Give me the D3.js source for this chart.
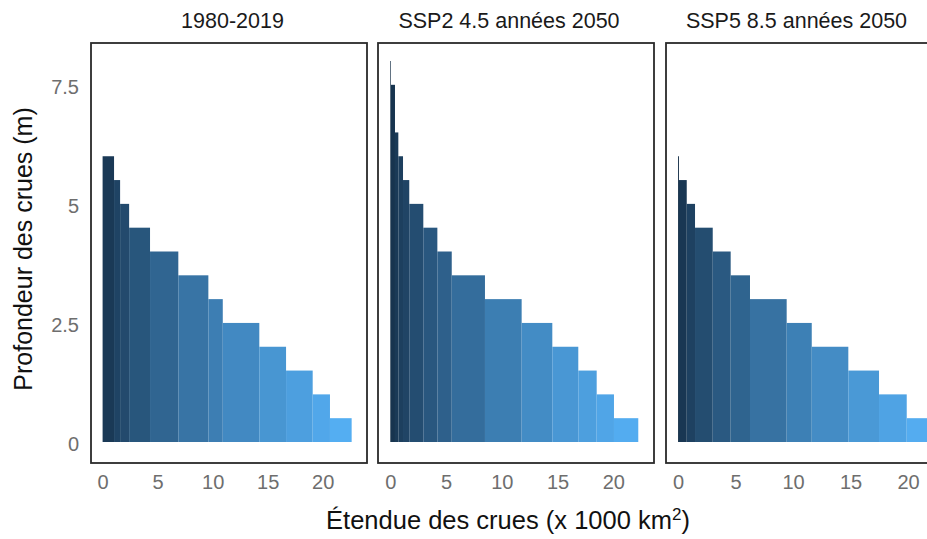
<!DOCTYPE html>
<html>
<head>
<meta charset="utf-8">
<script src="https://cdn.jsdelivr.net/npm/d3@7"></script>
<style>
  html, body { margin: 0; padding: 0; background: #fff; }
  svg { display: block; font-family: "Liberation Sans", Arial, sans-serif; }
</style>
</head>
<body>
<svg id="chart" width="927" height="539"></svg>
<script>
// Facet titles
const scenarios = ["1980-2019", "SSP2 4.5 années 2050", "SSP5 8.5 années 2050"];

// Depth class (m) and cumulative flooded extent (x 1000 km²) reached at that depth
const depthHist = [6, 5.5, 5, 4.5, 4, 3.5, 3, 2.5, 2, 1.5, 1, 0.5];
const extentHist = [1.04, 1.59, 2.41, 4.31, 6.88, 9.61, 10.92, 14.24, 16.67, 19.09, 20.66, 22.63];

const depthSsp245 = [8, 7.5, 6.5, 6, 5.5, 5, 4.5, 4, 3.5, 3, 2.5, 2, 1.5, 1, 0.5];
const extentSsp245 = [0.06, 0.42, 0.72, 1.14, 1.70, 2.96, 4.22, 5.51, 8.49, 11.78, 14.53, 16.86, 18.51, 20.06, 22.24];

const depthSsp585 = [6, 5.5, 5, 4.5, 4, 3.5, 3, 2.5, 2, 1.5, 1, 0.5];
const extentSsp585 = [0.08, 0.76, 1.48, 3.02, 4.58, 6.26, 9.45, 11.63, 14.81, 17.48, 19.89, 22.6];

const xTicks = [0, 5, 10, 15, 20];
const yTicks = [0, 2.5, 5, 7.5];

const series = [
  { title: scenarios[0], depth: depthHist, extent: extentHist },
  { title: scenarios[1], depth: depthSsp245, extent: extentSsp245 },
  { title: scenarios[2], depth: depthSsp585, extent: extentSsp585 }
];

// Panel geometry
const frameTop = 43, frameBottom = 463, frameW = 276;
const frames = [
  { left: 91,  x0: 102.6, x20: 322.7, titleX: 232.5 },
  { left: 378, x0: 390.3, x20: 613.3, titleX: 509 },
  { left: 666, x0: 678,   x20: 908,   titleX: 796.5 }
];

const svg = d3.select("#chart");

const y = d3.scaleLinear().domain([0, 8]).range([442, 61]);
// Fill follows the extent at the middle of each bar, dark navy to light blue
const fill = d3.scaleSequentialPow(d3.interpolateRgb("#132B43", "#56B1F7"))
  .exponent(0.6)
  .domain([0, 22.6]);

series.forEach((s, i) => {
  const f = frames[i];
  const x = d3.scaleLinear().domain([0, 20]).range([f.x0, f.x20]);
  const g = svg.append("g");

  const bars = s.depth.map((d, k) => ({
    depth: d,
    from: k === 0 ? 0 : s.extent[k - 1],
    to: s.extent[k]
  }));

  g.selectAll("rect.bar")
    .data(bars)
    .join("rect")
    .attr("class", "bar")
    .attr("x", d => x(d.from))
    .attr("width", d => x(d.to) - x(d.from))
    .attr("y", d => y(d.depth))
    .attr("height", d => y(0) - y(d.depth))
    .attr("fill", d => fill((d.from + d.to) / 2));

  // Panel border
  g.append("rect")
    .attr("x", f.left)
    .attr("y", frameTop)
    .attr("width", frameW)
    .attr("height", frameBottom - frameTop)
    .attr("fill", "none")
    .attr("stroke", "#2a2a2a")
    .attr("stroke-width", 1.8);

  // Facet title
  svg.append("text")
    .attr("x", f.titleX)
    .attr("y", 28)
    .attr("text-anchor", "middle")
    .attr("font-size", 21.5)
    .attr("fill", "#1a1a1a")
    .text(s.title);

  // x axis (labels only)
  const xAxis = d3.axisBottom(x).tickValues(xTicks).tickSize(0).tickPadding(0).tickFormat(d3.format("d"));
  const xg = svg.append("g").attr("transform", `translate(0, ${frameBottom + 12})`).call(xAxis);
  xg.select(".domain").remove();
  xg.selectAll("text").attr("font-size", 20).attr("fill", "#6e6e6e").attr("font-family", "Liberation Sans, Arial, sans-serif").attr("dy", "0.71em");

  if (i === 0) {
    const yAxis = d3.axisLeft(y).tickValues(yTicks).tickSize(0).tickPadding(0).tickFormat(d => d3.format("~g")(d));
    const yg = svg.append("g").attr("transform", `translate(79, 2)`).call(yAxis);
    yg.select(".domain").remove();
    yg.selectAll("text").attr("font-size", 20).attr("fill", "#6e6e6e").attr("font-family", "Liberation Sans, Arial, sans-serif");
  }
});

// Axis titles
const xTitle = svg.append("text")
  .attr("x", 508)
  .attr("y", 529)
  .attr("text-anchor", "middle")
  .attr("font-size", 25.5)
  .attr("fill", "#111");
xTitle.append("tspan").text("Étendue des crues (x 1000 km");
xTitle.append("tspan").attr("dy", -9).attr("font-size", 17).text("2");
xTitle.append("tspan").attr("dy", 9).text(")");

svg.append("text")
  .attr("transform", "translate(32, 249) rotate(-90)")
  .attr("text-anchor", "middle")
  .attr("font-size", 25)
  .attr("fill", "#111")
  .text("Profondeur des crues (m)");
</script>
</body>
</html>
